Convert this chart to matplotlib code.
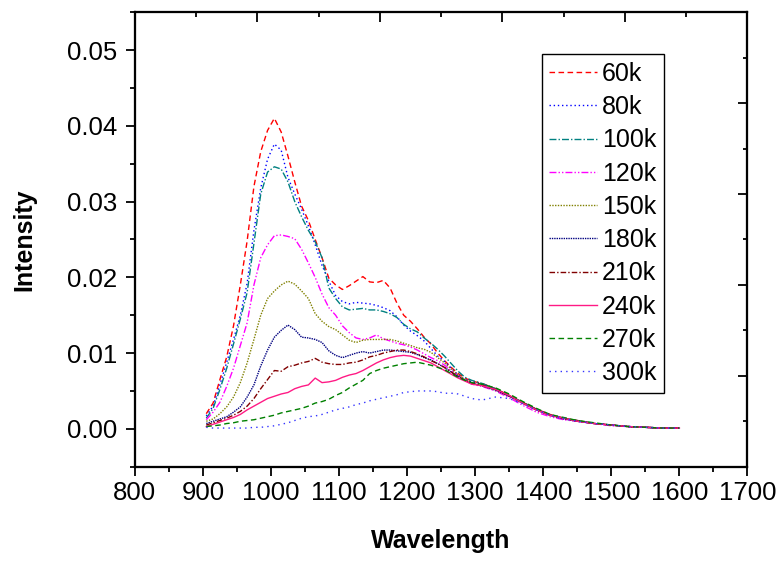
import matplotlib
matplotlib.use("Agg")
import matplotlib.pyplot as plt
from matplotlib.ticker import MultipleLocator, FixedLocator, NullFormatter

plt.rcParams['font.family'] = ['Liberation Sans', 'DejaVu Sans']

wavelength = [905, 915, 925, 935, 945, 955, 965, 975, 985, 995,
              1005, 1015, 1025, 1035, 1045, 1055, 1065, 1075, 1085, 1095,
              1105, 1115, 1125, 1135, 1145, 1155, 1165, 1175, 1185, 1195,
              1205, 1215, 1225, 1235, 1245, 1255, 1265, 1275, 1285, 1295,
              1310, 1330, 1350, 1370, 1390, 1410, 1430, 1450, 1475, 1500,
              1525, 1550, 1575, 1600]

i_60k = [.0020, .0034, .0065, .0095, .0136, .0190, .0248, .0320, .0366, .0394,
         .0410, .0392, .0360, .0326, .0294, .0275, .0250, .0226, .0199, .0190,
         .0184, .0189, .0195, .0201, .0194, .0193, .0196, .0186, .0166, .0150,
         .0142, .0132, .0121, .0112, .0100, .0090, .0081, .0073, .0067, .0063,
         .0060, .0053, .0044, .0035, .0026, .0019, .0014, .0011, .0007, .0005,
         .0003, .0002, .0001, .0001]
i_80k = [.0017, .0030, .0058, .0088, .0118, .0150, .0192, .0262, .0318, .0356,
         .0376, .0368, .0332, .0310, .0290, .0268, .0243, .0216, .0195, .0176,
         .0168, .0165, .0167, .0166, .0165, .0163, .0160, .0156, .0148, .0137,
         .0129, .0123, .0116, .0106, .0096, .0089, .0080, .0071, .0065, .0062,
         .0059, .0052, .0043, .0034, .0025, .0018, .0014, .0010, .0007, .0005,
         .0003, .0002, .0001, .0001]
i_100k = [.0014, .0027, .0052, .0080, .0112, .0145, .0180, .0245, .0310, .0339,
          .0346, .0343, .0326, .0300, .0280, .0262, .0247, .0226, .0186, .0172,
          .0161, .0157, .0158, .0159, .0157, .0157, .0155, .0152, .0147, .0138,
          .0132, .0128, .0120, .0113, .0105, .0096, .0086, .0076, .0068, .0064,
          .0060, .0053, .0044, .0035, .0026, .0018, .0014, .0011, .0007, .0005,
          .0003, .0002, .0001, .0001]
i_120k = [.0012, .0022, .0035, .0056, .0080, .0110, .0140, .0190, .0226, .0243,
          .0255, .0256, .0254, .0251, .0237, .0219, .0200, .0178, .0160, .0150,
          .0136, .0127, .0120, .0118, .0120, .0124, .0119, .0116, .0113, .0111,
          .0108, .0104, .0099, .0094, .0090, .0084, .0077, .0070, .0064, .0059,
          .0056, .0050, .0041, .0031, .0022, .0016, .0012, .0010, .0007, .0004,
          .0003, .0002, .0001, .0001]
i_150k = [.0010, .0013, .0020, .0029, .0042, .0061, .0087, .0118, .0150, .0172,
          .0182, .0190, .0195, .0191, .0182, .0172, .0152, .0142, .0135, .0131,
          .0124, .0117, .0114, .0117, .0118, .0118, .0118, .0118, .0116, .0113,
          .0110, .0107, .0105, .0101, .0094, .0087, .0079, .0071, .0065, .0060,
          .0057, .0051, .0043, .0034, .0025, .0018, .0014, .0011, .0007, .0005,
          .0003, .0002, .0001, .0001]
i_180k = [.0007, .0010, .0013, .0016, .0022, .0029, .0042, .0058, .0083, .0104,
          .0121, .0130, .0137, .0131, .0121, .0120, .0118, .0114, .0103, .0097,
          .0094, .0097, .0100, .0102, .0100, .0102, .0104, .0104, .0103, .0102,
          .0101, .0098, .0094, .0091, .0086, .0081, .0075, .0069, .0064, .0060,
          .0057, .0051, .0043, .0034, .0025, .0018, .0013, .0010, .0007, .0005,
          .0003, .0002, .0001, .0001]
i_210k = [.0005, .0008, .0011, .0014, .0018, .0023, .0030, .0040, .0053, .0065,
          .0077, .0076, .0082, .0084, .0087, .0089, .0093, .0088, .0086, .0085,
          .0085, .0087, .0088, .0091, .0095, .0097, .0100, .0102, .0104, .0104,
          .0102, .0099, .0095, .0090, .0086, .0081, .0075, .0069, .0064, .0060,
          .0058, .0052, .0044, .0034, .0025, .0018, .0014, .0010, .0007, .0005,
          .0003, .0002, .0001, .0001]
i_240k = [.0003, .0006, .0009, .0012, .0015, .0019, .0025, .0030, .0035, .0040,
          .0043, .0046, .0048, .0053, .0056, .0058, .0067, .0061, .0062, .0064,
          .0068, .0071, .0073, .0077, .0082, .0087, .0091, .0094, .0096, .0097,
          .0096, .0093, .0090, .0087, .0082, .0077, .0072, .0067, .0063, .0059,
          .0057, .0052, .0044, .0034, .0025, .0018, .0014, .0010, .0007, .0005,
          .0003, .0002, .0001, .0001]
i_270k = [.0003, .0004, .0005, .0007, .0008, .0010, .0011, .0012, .0014, .0016,
          .0018, .0021, .0023, .0025, .0027, .0030, .0034, .0036, .0039, .0044,
          .0048, .0054, .0059, .0064, .0073, .0077, .0080, .0082, .0084, .0086,
          .0087, .0088, .0086, .0084, .0081, .0078, .0073, .0068, .0064, .0061,
          .0059, .0054, .0046, .0036, .0027, .0019, .0015, .0011, .0008, .0005,
          .0003, .0002, .0001, .0001]
i_300k = [.0002, .0001, .0001, .0001, .0001, .0001, .0001, .0002, .0002, .0003,
          .0004, .0006, .0008, .0011, .0014, .0016, .0017, .0019, .0022, .0025,
          .0027, .0029, .0032, .0034, .0037, .0039, .0041, .0043, .0045, .0048,
          .0049, .0050, .0050, .0050, .0049, .0047, .0047, .0046, .0043, .0040,
          .0038, .0042, .0040, .0033, .0025, .0018, .0014, .0010, .0007, .0005,
          .0003, .0002, .0001, .0001]

labels = ['60k', '80k', '100k', '120k', '150k', '180k', '210k', '240k', '270k', '300k']
series = [i_60k, i_80k, i_100k, i_120k, i_150k, i_180k, i_210k, i_240k, i_270k, i_300k]
colors = ['#FF0000', '#0000FF', '#008080', '#FF00FF', '#808000',
          '#000080', '#800000', '#FF1A85', '#008000', '#3333FF']
styles = [(0, (4, 2.5)), (0, (1, 2)), (0, (5, 1.5, 1, 1.5)), (0, (5, 1.5, 1, 1.5, 1, 1.5)),
          (0, (1, 1)), (0, (1, 0.7)), (0, (4, 1.5, 1, 1.5)), '-', (0, (4, 2.5)), (0, (1, 3))]

fig = plt.figure(figsize=(7.81, 5.61), dpi=100)
ax = fig.add_axes([0.1726, 0.1681, 0.7845, 0.8100])

for y, lab, c, ls in zip(series, labels, colors, styles):
    ax.plot(wavelength, y, color=c, linestyle=ls, linewidth=1.0, label=lab)

ax.set_xlim(800, 1700)
ax.set_ylim(-0.005, 0.055)
ax.xaxis.set_major_locator(MultipleLocator(100))
ax.xaxis.set_minor_locator(MultipleLocator(50))
ax.yaxis.set_major_locator(FixedLocator([0.0, 0.01, 0.02, 0.03, 0.04, 0.05]))
ax.yaxis.set_minor_locator(MultipleLocator(0.005))
ax.set_yticklabels(['0.00', '0.01', '0.02', '0.03', '0.04', '0.05'])
ax.tick_params(axis='both', which='major', direction='out', length=6.5, width=1.3,
               labelsize=18.5)
ax.tick_params(axis='x', which='major', pad=4)
ax.tick_params(axis='y', which='major', pad=6)
ax.tick_params(axis='both', which='minor', direction='out', length=3.6, width=1.3)
ax.tick_params(top=False, right=False)
for s in ax.spines.values():
    s.set_linewidth(1.5)

ax.set_xlabel('Wavelength', fontsize=18, fontweight='bold', labelpad=17)
ax.set_ylabel('Intensity', fontsize=18, fontweight='bold', labelpad=22)

# top and right axes with their own inward ticks
axt = ax.twiny()
axt.set_xlim(0, 10)
axt.xaxis.set_major_locator(FixedLocator([2, 4, 6, 8]))
axt.xaxis.set_minor_locator(FixedLocator([1, 3, 5, 7, 9]))
axt.xaxis.set_major_formatter(NullFormatter())
axt.tick_params(axis='x', which='major', direction='in', length=7, width=1.3)
axt.tick_params(axis='x', which='minor', direction='in', length=3.6, width=1.3)
axr = ax.twinx()
axr.set_ylim(0, 10)
axr.yaxis.set_major_locator(FixedLocator([2, 4, 6, 8]))
axr.yaxis.set_minor_locator(FixedLocator([1, 3, 5, 7, 9]))
axr.yaxis.set_major_formatter(NullFormatter())
axr.tick_params(axis='y', which='major', direction='in', length=6.5, width=1.3)
axr.tick_params(axis='y', which='minor', direction='in', length=3.2, width=1.3)
for a in (axt, axr):
    for s in a.spines.values():
        s.set_linewidth(1.5)

h, l = ax.get_legend_handles_labels()
leg = axr.legend(h, l, loc='upper left', bbox_to_anchor=(541.7 / 781, 1 - 54.3 / 561),
                 bbox_transform=fig.transFigure, fontsize=18, frameon=True, fancybox=False,
                 edgecolor='black', framealpha=1, borderpad=0.3, labelspacing=0.37,
                 handlelength=1.9, handletextpad=0.2, borderaxespad=0)
leg.get_frame().set_linewidth(1.0)

fig.savefig('out.png', dpi=100)
